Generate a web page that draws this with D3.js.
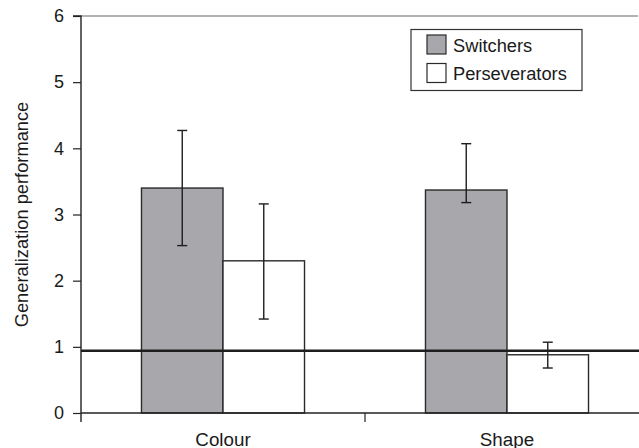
<!DOCTYPE html>
<html><head><meta charset="utf-8">
<script src="https://cdn.jsdelivr.net/npm/d3@7"></script>
<style>body{margin:0;background:#fff}svg{display:block;font-family:"Liberation Sans",Arial,sans-serif}</style>
</head><body><svg id="c" width="639" height="448"></svg>
<script>
const categories = ["Colour", "Shape"];
const seriesNames = ["Switchers", "Perseverators"];
const switchersMean = [3.40, 3.37];
const switchersLow = [2.53, 3.18];
const switchersHigh = [4.27, 4.07];
const persevMean = [2.30, 0.88];
const persevLow = [1.42, 0.68];
const persevHigh = [3.16, 1.07];
const chanceLevel = 0.94;
const yTicks = [0, 1, 2, 3, 4, 5, 6];
const seriesColors = ["#a8a8ac", "#ffffff"];

const svg = d3.select("#c");
const x0 = 81, x1 = 649, yTop = 16, yBot = 413;
const x = d3.scaleBand().domain(categories).range([x0, x1]).paddingInner(0).paddingOuter(0);
const xs = d3.scaleBand().domain(seriesNames).range([0, x.bandwidth()]).paddingInner(0).paddingOuter(0.742);
const y = d3.scaleLinear().domain([0, 6]).range([yBot, yTop]);

const series = [
  {name: seriesNames[0], mean: switchersMean, lo: switchersLow, hi: switchersHigh, color: seriesColors[0]},
  {name: seriesNames[1], mean: persevMean, lo: persevLow, hi: persevHigh, color: seriesColors[1]}
];

// top border line
svg.append("line").attr("x1", x0).attr("x2", 638).attr("y1", y(6)).attr("y2", y(6))
  .attr("stroke", "#666").attr("stroke-width", 1.2);

// bars
series.forEach(s => {
  svg.append("g").selectAll("rect").data(categories).join("rect")
    .attr("x", c => x(c) + xs(s.name))
    .attr("width", xs.bandwidth())
    .attr("y", (c, i) => y(s.mean[i]))
    .attr("height", (c, i) => y(0) - y(s.mean[i]))
    .attr("fill", s.color).attr("stroke", "#2a2a2a").attr("stroke-width", 1.4);
});

// chance line
svg.append("line").attr("x1", x0).attr("x2", 639).attr("y1", y(chanceLevel)).attr("y2", y(chanceLevel))
  .attr("stroke", "#1e1e1e").attr("stroke-width", 2.4);

// error bars
series.forEach(s => {
  const g = svg.append("g").attr("stroke", "#1e1e1e").attr("stroke-width", 1.4);
  categories.forEach((c, i) => {
    const cx = x(c) + xs(s.name) + xs.bandwidth() / 2;
    g.append("line").attr("x1", cx).attr("x2", cx).attr("y1", y(s.lo[i])).attr("y2", y(s.hi[i]));
    [s.lo[i], s.hi[i]].forEach(v => g.append("line").attr("x1", cx - 5).attr("x2", cx + 5).attr("y1", y(v)).attr("y2", y(v)));
  });
});

// y axis
const yAxis = d3.axisLeft(y).tickValues(yTicks).tickSize(8).tickPadding(9).tickFormat(d3.format("d"));
const ga = svg.append("g").attr("transform", `translate(${x0},0)`).call(yAxis);
ga.select(".domain").attr("stroke", "#222").attr("stroke-width", 1.4).attr("d", `M-8,${yTop}H0V${yBot + 9}`);
ga.selectAll(".tick line").attr("stroke", "#222").attr("stroke-width", 1.2);
ga.selectAll("text").attr("font-size", 18).attr("fill", "#1a1a1a").attr("font-family", "Liberation Sans, Arial, sans-serif");

// x axis
svg.append("line").attr("x1", x0).attr("x2", 639).attr("y1", yBot).attr("y2", yBot)
  .attr("stroke", "#222").attr("stroke-width", 1.4);
svg.append("line").attr("x1", x(categories[1])).attr("x2", x(categories[1])).attr("y1", yBot).attr("y2", yBot + 9)
  .attr("stroke", "#222").attr("stroke-width", 1.2);
svg.append("g").selectAll("text").data(categories).join("text")
  .attr("x", c => x(c) + x.bandwidth() / 2).attr("y", 445.5)
  .attr("text-anchor", "middle").attr("font-size", 18.8).attr("fill", "#1a1a1a").text(c => c);

// y label
svg.append("text").attr("transform", `translate(28,${(yTop + yBot) / 2}) rotate(-90)`)
  .attr("text-anchor", "middle").attr("font-size", 18.3).attr("fill", "#1a1a1a").text("Generalization performance");

// legend
const lg = svg.append("g");
lg.append("rect").attr("x", 411).attr("y", 29.5).attr("width", 171).attr("height", 61)
  .attr("fill", "#fff").attr("stroke", "#333").attr("stroke-width", 1.2);
series.forEach((s, i) => {
  lg.append("rect").attr("x", 427).attr("y", 35 + i * 28.5).attr("width", 19).attr("height", 19)
    .attr("fill", s.color).attr("stroke", "#2a2a2a").attr("stroke-width", 1.2);
  lg.append("text").attr("x", 453).attr("y", 51.5 + i * 28.5).attr("font-size", 18.3).attr("fill", "#1a1a1a").text(s.name);
});
</script></body></html>
